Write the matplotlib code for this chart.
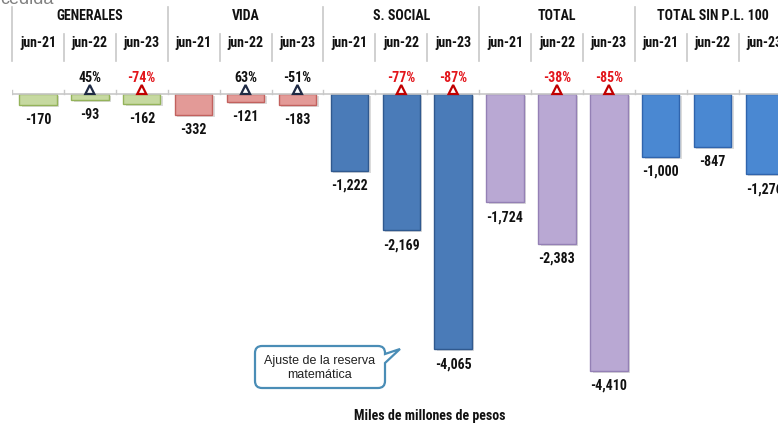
import matplotlib

matplotlib.use("Agg")
import matplotlib.pyplot as plt
from matplotlib.path import Path
from matplotlib.patches import PathPatch, Polygon
from matplotlib.transforms import Affine2D

plt.rcParams["font.family"] = ["Roboto Condensed", "Liberation Sans Narrow", "Liberation Sans", "DejaVu Sans"]

W, H = 778, 427

groups = ["GENERALES", "VIDA", "S. SOCIAL", "TOTAL", "TOTAL SIN P.L. 100"]
periods = ["jun-21", "jun-22", "jun-23"]
values = [
    [-170, -93, -162],
    [-332, -121, -183],
    [-1222, -2169, -4065],
    [-1724, -2383, -4410],
    [-1000, -847, -1276],
]
changes = [
    [None, "45%", "-74%"],
    [None, "63%", "-51%"],
    [None, "-77%", "-87%"],
    [None, "-38%", "-85%"],
    [None, None, None],
]
change_red = [
    [False, False, True],
    [False, False, False],
    [False, True, True],
    [False, True, True],
    [False, False, False],
]
face_colors = ["#c6d9a0", "#e39a97", "#4a7bb8", "#b9a8d3", "#4a88d2"]
edge_colors = ["#94b35a", "#c2615e", "#30598f", "#9480b5", "#2f64ad"]

RED = "#e3151b"
slot_px = 51.9
left_px = 12
px_per_unit = 0.0628
base_px = 95


def fy(py):
    # figure fraction from pixel-from-top
    return 1 - py / H


fig = plt.figure(figsize=(W / 100, H / 100), dpi=100)
ax = fig.add_axes([left_px / W, 0, (W - left_px) / W, 1])
ax.set_xlim(-0.5, -0.5 + (W - left_px) / slot_px)
ax.set_ylim(-(H - base_px) / px_per_unit, base_px / px_per_unit)
ax.axis("off")

u = 1 / px_per_unit  # data units per pixel in y
xu = 1 / slot_px  # data units per pixel in x
tr = ax.get_xaxis_transform()  # x data, y axes fraction == figure fraction here

bar_w = 0.72
for g, vals in enumerate(values):
    xs = [g * 3 + i for i in range(3)]
    # soft shadow
    ax.bar([x + 2.5 * xu for x in xs], vals, width=bar_w, bottom=-2 * u,
           color="#9a9a9a", alpha=0.35, linewidth=0, zorder=1)
    ax.bar(xs, vals, width=bar_w, color=face_colors[g], edgecolor=edge_colors[g],
           linewidth=1.0, zorder=2)
    for i, (x, v) in enumerate(zip(xs, vals)):
        ax.text(x, v - 14 * u, f"{v:,}", ha="center", va="center",
                fontsize=10, fontweight="bold", color="#111111", zorder=5)
        pct = changes[g][i]
        if pct:
            col = RED if change_red[g][i] else "#111111"
            ax.text(x, fy(78), pct, transform=tr, ha="center", va="center",
                    fontsize=10, fontweight="bold", color=col)
            ec = "#c00000" if change_red[g][i] else "#1f2a44"
            tri = Polygon([(x - 4.5 * xu, 0), (x + 4.5 * xu, 0), (x, 9 * u)],
                          closed=True, facecolor="white", edgecolor=ec,
                          linewidth=1.6, zorder=6)
            ax.add_patch(tri)
    ax.text(g * 3 + 1, fy(16), groups[g], transform=tr, ha="center", va="center",
            fontsize=10, fontweight="bold", color="#111111")
    for i, p in enumerate(periods):
        ax.text(g * 3 + i, fy(43), p, transform=tr, ha="center", va="center",
                fontsize=10, fontweight="bold", color="#111111")

# header separators and baseline
n = 15
for k in range(n + 1):
    xb = k - 0.5
    top = 8 if k % 3 == 0 else 35
    ax.plot([xb, xb], [fy(top), fy(62)], transform=tr, color="#c8c8c8",
            linewidth=1.2, clip_on=False)
    ax.plot([xb, xb], [0, 4 * u], color="#c8c8c8", linewidth=1.0, zorder=3)
ax.plot([-0.5, n], [0, 0], color="#c8c8c8", linewidth=1.2, zorder=3)

# cut-off title remnant at the very top
fig.text(0, fy(0), "cedida", ha="left", va="center", fontsize=13,
         color="#808080", family=["Liberation Sans", "DejaVu Sans"])

# callout
x0, x1, y0, y1, r = 255, 385, 347, 389, 7
verts = [
    (x0 + r, y0), (x1 - r, y0), (x1, y0), (x1, y0 + r),
    (x1, 355), (400, 350), (x1, 364),
    (x1, y1 - r), (x1, y1), (x1 - r, y1),
    (x0 + r, y1), (x0, y1), (x0, y1 - r),
    (x0, y0 + r), (x0, y0), (x0 + r, y0),
    (x0 + r, y0),
]
codes = [
    Path.MOVETO, Path.LINETO, Path.CURVE3, Path.CURVE3,
    Path.LINETO, Path.LINETO, Path.LINETO,
    Path.LINETO, Path.CURVE3, Path.CURVE3,
    Path.LINETO, Path.CURVE3, Path.CURVE3,
    Path.LINETO, Path.CURVE3, Path.CURVE3,
    Path.CLOSEPOLY,
]
px_tr = Affine2D().scale(1 / W, -1 / H).translate(0, 1) + fig.transFigure
fig.patches.append(PathPatch(Path(verts, codes), transform=px_tr, facecolor="white",
                             edgecolor="#4a8db6", linewidth=1.6, zorder=10))
fig.text((x0 + x1) / 2 / W, fy((y0 + y1) / 2), "Ajuste de la reserva\nmatemática",
         ha="center", va="center", fontsize=9, color="#222222", linespacing=1.15,
         family=["Liberation Sans", "DejaVu Sans"], zorder=11)

fig.text(430 / W, fy(416), "Miles de millones de pesos", ha="center", va="center",
         fontsize=10, fontweight="bold", color="#111111")

fig.savefig("out.png", dpi=100)
